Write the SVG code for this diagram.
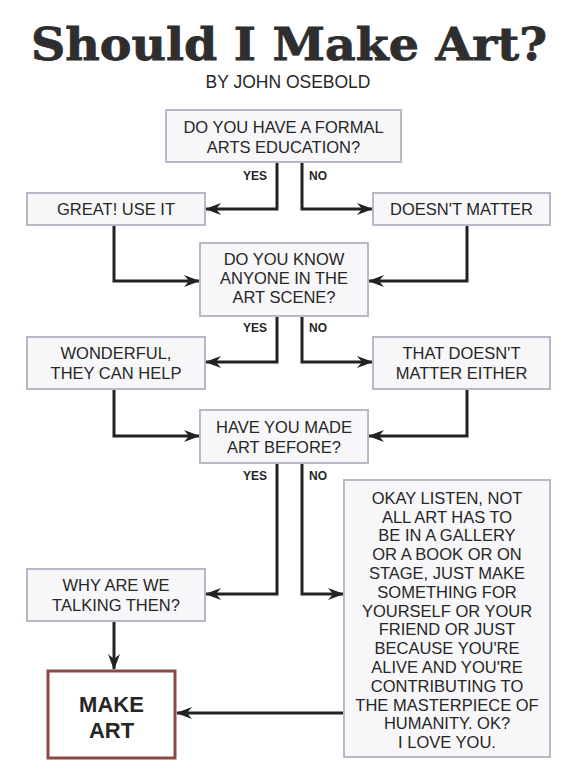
<svg xmlns="http://www.w3.org/2000/svg" width="573" height="774" viewBox="0 0 573 774">
<defs>
<marker id="ah" viewBox="0 0 16 12" refX="15" refY="6" markerWidth="16" markerHeight="12" markerUnits="userSpaceOnUse" orient="auto">
<path d="M0,0 L16,6 L0,12 L5,6 z" fill="#222"/>
</marker>
</defs>
<style>
.bx{fill:#f7f7f9;stroke:#b6bac6;stroke-width:2}
.t{font-family:"Liberation Sans",Arial,sans-serif;font-size:16.5px;fill:#262626;text-anchor:middle}
.lbl{font-family:"Liberation Sans",Arial,sans-serif;font-size:12px;font-weight:bold;fill:#262626}
.c{fill:none;stroke:#222;stroke-width:3}
</style>
<rect width="573" height="774" fill="#ffffff"/>
<text x="289" y="60" font-family="DejaVu Serif, serif" font-weight="bold" font-size="44" fill="#2e2e2e" stroke="#2e2e2e" stroke-width="0.8" text-anchor="middle" textLength="516" lengthAdjust="spacingAndGlyphs">Should I Make Art?</text>
<text x="288" y="88" font-family="Liberation Sans, Arial, sans-serif" font-size="17.5" fill="#262626" text-anchor="middle">BY JOHN OSEBOLD</text>

<g id="connectors">
<path class="c" d="M277,162 V209 H206" marker-end="url(#ah)"/>
<path class="c" d="M302,162 V209 H372" marker-end="url(#ah)"/>
<path class="c" d="M114,225 V281 H199" marker-end="url(#ah)"/>
<path class="c" d="M467,225 V281 H369" marker-end="url(#ah)"/>
<path class="c" d="M277,316 V362 H206" marker-end="url(#ah)"/>
<path class="c" d="M302,316 V362 H372" marker-end="url(#ah)"/>
<path class="c" d="M114,389 V436 H199" marker-end="url(#ah)"/>
<path class="c" d="M467,389 V436 H369" marker-end="url(#ah)"/>
<path class="c" d="M277,463 V594 H206" marker-end="url(#ah)"/>
<path class="c" d="M302,463 V594 H343" marker-end="url(#ah)"/>
<path class="c" d="M114,621 V669" marker-end="url(#ah)"/>
<path class="c" d="M343,713 H177" marker-end="url(#ah)"/>
<text class="lbl" x="243" y="180">YES</text>
<text class="lbl" x="309" y="180">NO</text>
<text class="lbl" x="243" y="332">YES</text>
<text class="lbl" x="309" y="332">NO</text>
<text class="lbl" x="243" y="480">YES</text>
<text class="lbl" x="309" y="480">NO</text>
</g>

<g id="q1">
<rect class="bx" x="166" y="110" width="235" height="52"/>
<text class="t" x="283.5" y="133">DO YOU HAVE A FORMAL</text>
<text class="t" x="283.5" y="153">ARTS EDUCATION?</text>
</g>
<g id="great">
<rect class="bx" x="27" y="193" width="178" height="32"/>
<text class="t" x="116" y="215">GREAT! USE IT</text>
</g>
<g id="doesnt">
<rect class="bx" x="373" y="193" width="177" height="32"/>
<text class="t" x="461.5" y="215">DOESN'T MATTER</text>
</g>
<g id="q2">
<rect class="bx" x="200" y="243" width="168" height="73"/>
<text class="t" x="284" y="265">DO YOU KNOW</text>
<text class="t" x="284" y="284">ANYONE IN THE</text>
<text class="t" x="284" y="303">ART SCENE?</text>
</g>
<g id="wonderful">
<rect class="bx" x="27" y="337" width="178" height="52"/>
<text class="t" x="116" y="359">WONDERFUL,</text>
<text class="t" x="116" y="379">THEY CAN HELP</text>
</g>
<g id="either">
<rect class="bx" x="373" y="337" width="177" height="52"/>
<text class="t" x="461.5" y="359">THAT DOESN'T</text>
<text class="t" x="461.5" y="379">MATTER EITHER</text>
</g>
<g id="q3">
<rect class="bx" x="200" y="410" width="168" height="53"/>
<text class="t" x="284" y="433">HAVE YOU MADE</text>
<text class="t" x="284" y="453">ART BEFORE?</text>
</g>
<g id="why">
<rect class="bx" x="27" y="569" width="178" height="52"/>
<text class="t" x="116" y="591">WHY ARE WE</text>
<text class="t" x="116" y="611">TALKING THEN?</text>
</g>
<g id="okay">
<rect class="bx" x="344" y="480" width="206" height="277"/>
<text class="t" x="447" y="504">OKAY LISTEN, NOT</text>
<text class="t" x="447" y="523">ALL ART HAS TO</text>
<text class="t" x="447" y="541">BE IN A GALLERY</text>
<text class="t" x="447" y="560">OR A BOOK OR ON</text>
<text class="t" x="447" y="579">STAGE, JUST MAKE</text>
<text class="t" x="447" y="598">SOMETHING FOR</text>
<text class="t" x="447" y="617">YOURSELF OR YOUR</text>
<text class="t" x="447" y="635">FRIEND OR JUST</text>
<text class="t" x="447" y="654">BECAUSE YOU'RE</text>
<text class="t" x="447" y="673">ALIVE AND YOU'RE</text>
<text class="t" x="447" y="692">CONTRIBUTING TO</text>
<text class="t" x="447" y="711">THE MASTERPIECE OF</text>
<text class="t" x="447" y="729">HUMANITY. OK?</text>
<text class="t" x="447" y="748">I LOVE YOU.</text>
</g>
<g id="makeart">
<rect x="48" y="671" width="127" height="87" fill="#ffffff" stroke="#8a4a44" stroke-width="3"/>
<text x="111.5" y="712" font-family="Liberation Sans, Arial, sans-serif" font-size="22" font-weight="bold" fill="#262626" text-anchor="middle">MAKE</text>
<text x="111.5" y="738" font-family="Liberation Sans, Arial, sans-serif" font-size="22" font-weight="bold" fill="#262626" text-anchor="middle">ART</text>
</g>
</svg>
